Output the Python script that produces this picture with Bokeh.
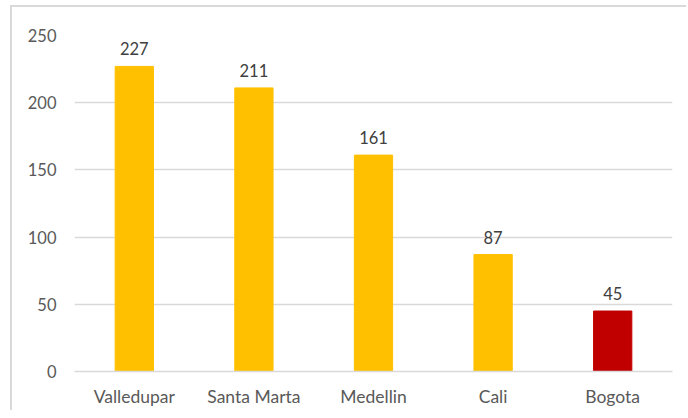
from bokeh.plotting import figure
from bokeh.models import ColumnDataSource, FactorRange, Range1d, FixedTicker
from bokeh.core.properties import value
from bokeh.embed import file_html
from bokeh.resources import INLINE

cities = ["Valledupar", "Santa Marta", "Medellin", "Cali", "Bogota"]
counts = [227, 211, 161, 87, 45]
colors = ["#FFC000", "#FFC000", "#FFC000", "#FFC000", "#C00000"]
y_ticks = [0, 50, 100, 150, 200, 250]

FONT = "Lato"
src = ColumnDataSource(dict(city=cities, n=counts, color=colors,
                            label=[str(c) for c in counts]))

p = figure(x_range=FactorRange(*cities, range_padding=0), y_range=Range1d(0, 250),
           width=676, height=405, output_backend="svg", toolbar_location=None,
           min_border_left=62, min_border_right=16, min_border_top=28, min_border_bottom=41)
p.styles = {"border-top": "2px solid #d9d9d9", "border-left": "2px solid #d9d9d9",
            "margin-top": "5px", "margin-left": "10px"}
p.outline_line_color = None

p.vbar(x="city", top="n", width=0.32, color="color", source=src)
p.text(x="city", y="n", text="label", source=src, y_offset=-11,
       text_align="center", text_baseline="bottom", text_color="#404040",
       text_font=value(FONT), text_font_size="16.5px")

p.xgrid.grid_line_color = None
p.ygrid.grid_line_color = "#d9d9d9"
p.ygrid.grid_line_width = 1.3
p.yaxis.ticker = FixedTicker(ticks=y_ticks)
p.yaxis.axis_line_color = None
p.yaxis.major_tick_line_color = None
p.yaxis.minor_tick_line_color = None
p.yaxis.major_tick_out = 0
p.yaxis.major_label_standoff = 18
p.xaxis.axis_line_color = "#d9d9d9"
p.xaxis.axis_line_width = 1.5
p.xaxis.major_tick_line_color = None
p.xaxis.major_tick_out = 0
p.xaxis.major_label_standoff = 14
for ax in (p.xaxis, p.yaxis):
    ax.major_label_text_font = FONT
    ax.major_label_text_color = "#595959"
p.xaxis.major_label_text_font_size = "17.5px"
p.yaxis.major_label_text_font_size = "16.5px"

open("out.html", "w").write(file_html(p, INLINE))
